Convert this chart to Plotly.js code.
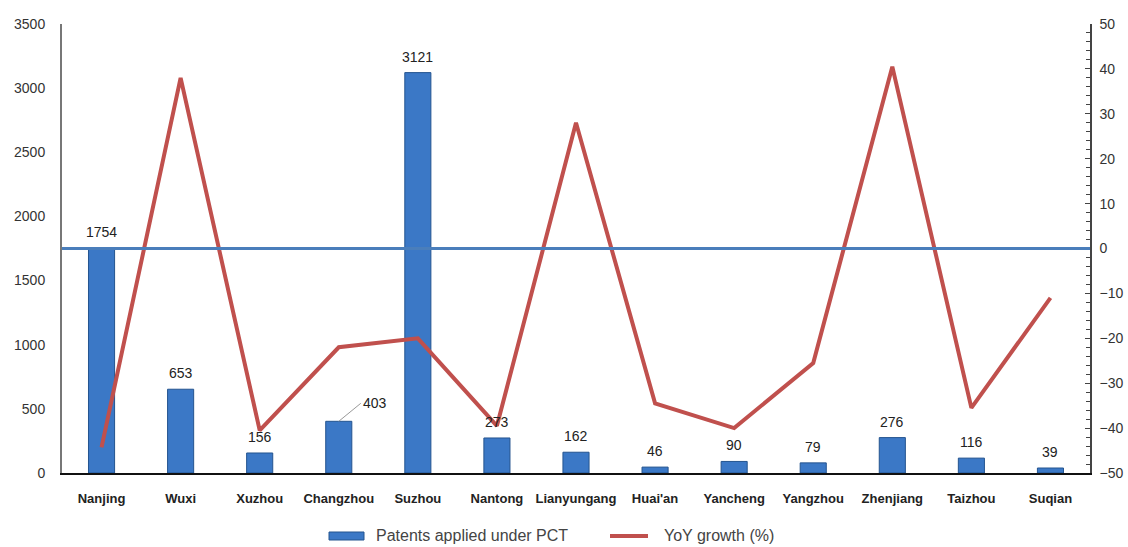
<!DOCTYPE html>
<html><head><meta charset="utf-8">
<script src="https://cdn.plot.ly/plotly-3.0.1.min.js"></script>
<style>body{margin:0;background:#fff}#c{width:1128px;height:547px}</style>
</head><body><div id="c"></div>
<script>
const cities = ["Nanjing","Wuxi","Xuzhou","Changzhou","Suzhou","Nantong","Lianyungang","Huai'an","Yancheng","Yangzhou","Zhenjiang","Taizhou","Suqian"];
const patents = [1754,653,156,403,3121,273,162,46,90,79,276,116,39];
const growth = [-44.3,38,-40.5,-22,-20,-39.5,28,-34.5,-40,-25.5,40.5,-35.5,-11];
const seriesNames = ["Patents applied under PCT","YoY growth (%)"];

const F = 'Liberation Sans, Arial';

const traces = [
  {type:'bar', x:cities, y:patents, name:seriesNames[0], width:0.33,
   marker:{color:'#3b78c6', line:{color:'#24548f', width:1}}},
  {type:'scatter', mode:'lines', x:cities, y:growth, yaxis:'y2', name:seriesNames[1],
   line:{color:'#c0504d', width:4}}
];

const W = 1128, H = 547, ml = 62, mr = 38, mt = 24, mb = 74;
const pw = W - ml - mr, ph = H - mt - mb;
const px = x => (x - ml) / pw;          // pixel -> paper x
const py = y => (H - mb - y) / ph;      // pixel -> paper y

const labels = cities.map((c,i)=> c==="Changzhou" ?
  {x:c, y:patents[i], text:String(patents[i]), xref:'x', yref:'y',
   showarrow:true, arrowhead:0, arrowcolor:'#999', arrowwidth:1,
   ax:22, ay:-18, xanchor:'left', font:{family:F, size:14, color:'#222'}} :
  {x:c, y:patents[i], text:String(patents[i]), xref:'x', yref:'y',
   showarrow:false, yanchor:'bottom', yshift:6, font:{family:F, size:14, color:'#222'}});

const layout = {
  width:W, height:H,
  margin:{l:ml, r:mr, t:mt, b:mb},
  paper_bgcolor:'#fff', plot_bgcolor:'#fff',
  showlegend:false,
  xaxis:{type:'category', range:[-0.5,12.5], showline:true, linecolor:'#111', linewidth:2,
         ticks:'', automargin:false, ticklabelstandoff:12,
         tickfont:{family:F, size:13, color:'#222', weight:'bold'},
         showgrid:false, zeroline:false},
  yaxis:{range:[0,3500], dtick:500, showline:true, linecolor:'#777', linewidth:2,
         showgrid:false, zeroline:false, ticks:'', automargin:false, ticklabelstandoff:12,
         tickfont:{family:F, size:14, color:'#333'}},
  yaxis2:{range:[-50,50], dtick:10, overlaying:'y', side:'right', showline:true,
          linecolor:'#444', linewidth:1.5, showgrid:false, zeroline:false, automargin:false,
          ticks:'inside', ticklen:5, tickcolor:'#444', ticklabelstandoff:5,
          minor:{dtick:2, ticks:'inside', ticklen:4, tickcolor:'#444'},
          tickfont:{family:F, size:14, color:'#333'}},
  shapes:[
    {type:'line', xref:'paper', x0:0, x1:1, yref:'y2', y0:0, y1:0,
     line:{color:'#4a7ebb', width:3}},
    {type:'rect', xref:'paper', yref:'paper', x0:px(329), x1:px(364), y0:py(540), y1:py(532),
     fillcolor:'#3b78c6', line:{color:'#24548f', width:1}},
    {type:'line', xref:'paper', yref:'paper', x0:px(610), x1:px(648), y0:py(536), y1:py(536),
     line:{color:'#c0504d', width:4}}
  ],
  annotations: labels.concat([
    {xref:'paper', yref:'paper', x:px(374), y:py(535), xanchor:'left', yanchor:'middle',
     text:seriesNames[0], showarrow:false, font:{family:F, size:16, color:'#444'}},
    {xref:'paper', yref:'paper', x:px(662), y:py(535), xanchor:'left', yanchor:'middle',
     text:seriesNames[1], showarrow:false, font:{family:F, size:16, color:'#444'}}
  ])
};
Plotly.newPlot('c', traces, layout, {displayModeBar:false});
</script></body></html>
